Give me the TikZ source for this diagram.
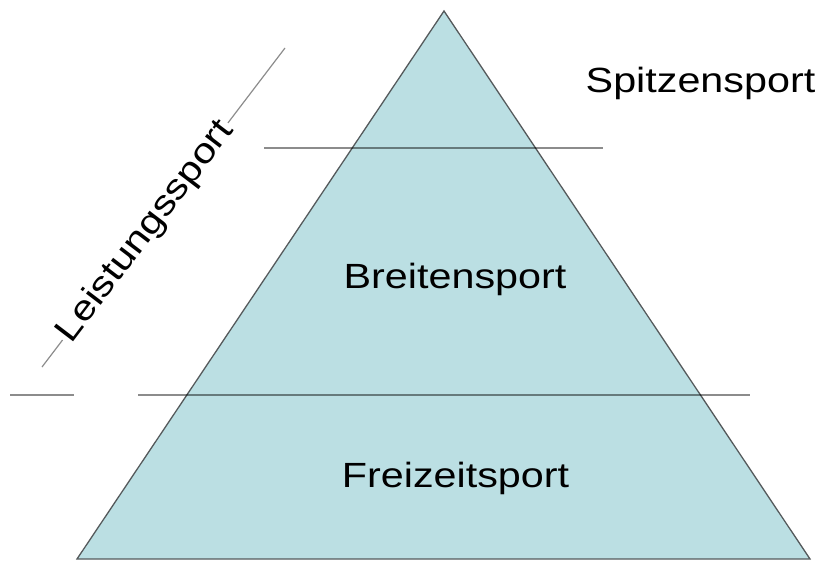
\documentclass[tikz,border=0pt]{standalone}
\usepackage{fontspec}
\usepackage{graphicx}
\setmainfont{Liberation Sans}
\definecolor{pyrfill}{RGB}{187,223,227}
\definecolor{pyredge}{RGB}{85,90,92}
\tikzset{
  pyramid/.style={fill=pyrfill, draw=pyredge, line width=1.3pt, line join=miter},
  divider/.style={draw=black, draw opacity=0.45, line width=1.2pt},
  label/.style={font=\fontsize{35}{40}\selectfont, inner sep=0pt, anchor=base},
}
\newcommand{\wide}[1]{\scalebox{1.18}[1]{#1}}
\begin{document}
\begin{tikzpicture}[x=1pt,y=-1pt]
\useasboundingbox (0,0) rectangle (824,560);
% pyramid
\coordinate (apex) at (444,11);
\coordinate (bl) at (77,559);
\coordinate (br) at (810,559);
\path[pyramid] (apex) -- (br) -- (bl) -- cycle;
% dividers
\coordinate (d1a) at (264,148);
\coordinate (d1b) at (603,148);
\coordinate (d2a) at (138,395);
\coordinate (d2b) at (750,395);
\coordinate (d3a) at (10,395);
\coordinate (d3b) at (74,395);
\draw[divider] (d1a) -- (d1b);
\draw[divider] (d2a) -- (d2b);
\draw[divider] (d3a) -- (d3b);
% diagonal bracket line with label
\coordinate (la) at (285,48);
\coordinate (lb) at (42,367);
\draw[divider] (la) -- (lb);
\node[label, fill=white, inner sep=2pt, rotate=52.7] (leist) at (152.9,237.3) {\wide{Leistungssport}};
% level labels
\node[label] (spitze) at (700.5,92) {\wide{Spitzensport}};
\node[label] (breite) at (455,288) {\wide{Breitensport}};
\node[label] (freizeit) at (455.5,487) {\wide{Freizeitsport}};
\end{tikzpicture}
\end{document}
